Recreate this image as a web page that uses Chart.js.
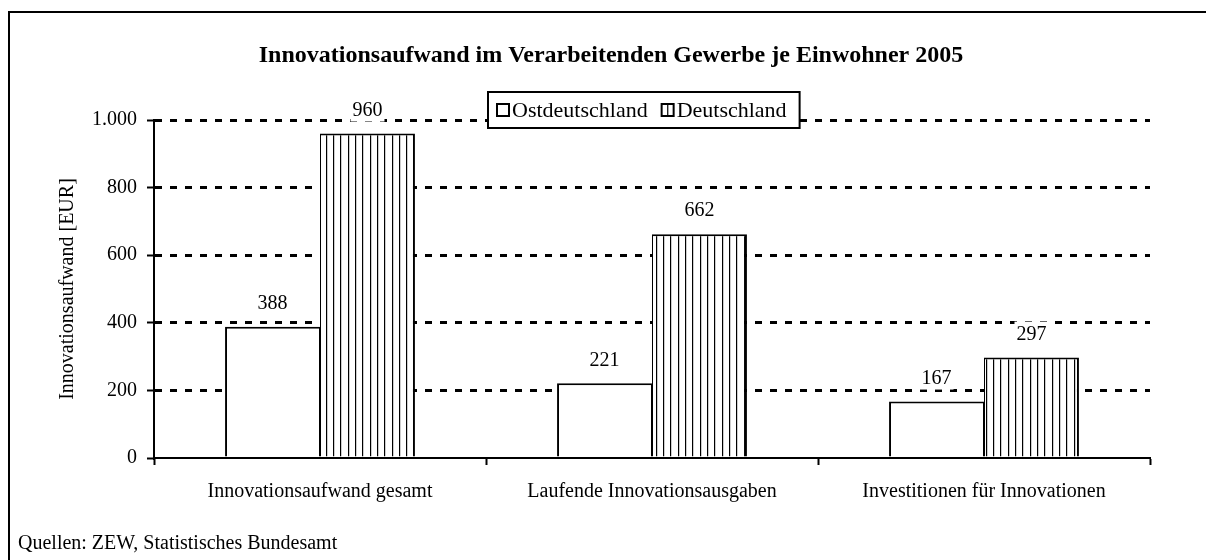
<!DOCTYPE html>
<html>
<head>
<meta charset="utf-8">
<script src="https://cdn.jsdelivr.net/npm/chart.js@4.4.0/dist/chart.umd.min.js"></script>
<style>
  body { margin: 0; background: #fff; }
</style>
</head>
<body>
<canvas id="innovChart" width="1206" height="560"></canvas>
<script>
// chart data
const categories = ['Innovationsaufwand gesamt', 'Laufende Innovationsausgaben', 'Investitionen für Innovationen'];
const seriesNames = ['Ostdeutschland', 'Deutschland'];
const ostValues = [388, 221, 167];
const deValues = [960, 662, 297];
const yTickValues = [0, 200, 400, 600, 800, 1000];

const chartTitle = 'Innovationsaufwand im Verarbeitenden Gewerbe je Einwohner 2005';
const yAxisTitle = 'Innovationsaufwand [EUR]';
const sourceNote = 'Quellen: ZEW, Statistisches Bundesamt';

const FONT = '"Liberation Serif", "Times New Roman", serif';

// vertical stripes fill for the Deutschland bars
function stripePattern() {
    var c = document.createElement('canvas');
    c.width = 22;
    c.height = 4;
    var p = c.getContext('2d');
    p.fillStyle = '#fff';
    p.fillRect(0, 0, 22, 4);
    p.fillStyle = '#000';
    [3, 10, 18].forEach(x => p.fillRect(x, 0, 1.2, 4));
    return p.createPattern(c, 'repeat');
}

function formatDe(v) {
    return String(v).replace(/\B(?=(\d{3})+(?!\d))/g, '.');
}

var ctx = document.getElementById('innovChart').getContext('2d');
var stripes = stripePattern();

const decorPlugin = {
    id: 'decor',
    beforeDraw(chart) {
        const c = chart.ctx;
        c.save();
        c.fillStyle = '#fff';
        c.fillRect(0, 0, chart.width, chart.height);
        c.strokeStyle = '#000';
        c.lineWidth = 2;
        c.strokeRect(9, 12, chart.width + 20, chart.height + 20);
        c.restore();
    },
    afterDatasetsDraw(chart) {
        // value labels on white boxes above the bars
        const c = chart.ctx;
        c.save();
        c.font = '20px ' + FONT;
        c.textAlign = 'center';
        c.textBaseline = 'middle';
        chart.data.datasets.forEach((ds, i) => {
            chart.getDatasetMeta(i).data.forEach((bar, j) => {
                const txt = formatDe(ds.data[j]);
                const w = c.measureText(txt).width + 4;
                const y = bar.y - 24;
                c.fillStyle = '#fff';
                c.fillRect(bar.x - w / 2, y - 12, w, 24);
                c.fillStyle = '#000';
                c.fillText(txt, bar.x, y + 1);
            });
        });
        c.restore();
    },
    afterDraw(chart) {
        const c = chart.ctx;
        c.save();
        c.fillStyle = '#000';

        // title
        c.font = 'bold 24px ' + FONT;
        c.textAlign = 'center';
        c.textBaseline = 'middle';
        c.fillText(chartTitle, 611, 56);

        // legend box
        c.font = '22px ' + FONT;
        c.textAlign = 'left';
        const left = 488, top = 92, h = 36;
        let x = left + 9;
        const items = chart.data.datasets.map(ds => ({ label: ds.label, striped: ds.backgroundColor !== '#fff' }));
        const parts = [];
        items.forEach((it, i) => {
            parts.push({ x: x, it: it });
            x += 12 + 3 + c.measureText(it.label).width + (i < items.length - 1 ? 14 : 13);
        });
        c.fillStyle = '#fff';
        c.fillRect(left, top, x - left, h);
        c.strokeStyle = '#000';
        c.lineWidth = 2;
        c.strokeRect(left, top, x - left, h);
        parts.forEach(p => {
            const sy = top + 12;
            c.fillStyle = '#fff';
            c.fillRect(p.x, sy, 12, 12);
            if (p.it.striped) {
                c.fillStyle = '#000';
                c.fillRect(p.x + 5.5, sy, 1.2, 12);
            }
            c.lineWidth = 2;
            c.strokeRect(p.x, sy, 12, 12);
            c.fillStyle = '#000';
            c.fillText(p.it.label, p.x + 15, top + h / 2 + 1);
        });

        // source note
        c.font = '20px ' + FONT;
        c.fillStyle = '#000';
        c.fillText(sourceNote, 18, 544);
        c.restore();
    }
};

new Chart(ctx, {
    type: 'bar',
    data: {
        labels: categories,
        datasets: [{
            label: seriesNames[0],
            data: ostValues,
            backgroundColor: '#fff',
            borderColor: '#000',
            borderWidth: { left: 2, top: 2, right: 1, bottom: 0 }
        }, {
            label: seriesNames[1],
            data: deValues,
            backgroundColor: stripes,
            borderColor: '#000',
            borderWidth: { left: 1, top: 2, right: 2, bottom: 0 }
        }]
    },
    options: {
        responsive: false,
        animation: false,
        layout: {
            padding: { left: 48, right: 56, top: 120, bottom: 50 }
        },
        datasets: {
            bar: {
                categoryPercentage: 0.572,
                barPercentage: 1
            }
        },
        scales: {
            x: {
                afterFit: s => { s.height = 52; },
                grid: {
                    drawOnChartArea: false,
                    drawTicks: true,
                    tickLength: 7,
                    tickWidth: 2,
                    tickColor: '#000'
                },
                border: { color: '#000', width: 2 },
                ticks: {
                    color: '#000',
                    padding: 15,
                    font: { family: FONT, size: 20 }
                }
            },
            y: {
                min: 0,
                max: 1000,
                afterFit: s => { s.width = 106; },
                afterBuildTicks: s => { s.ticks = yTickValues.map(v => ({ value: v })); },
                grid: {
                    color: c => (c.tick && c.tick.value === 0) ? 'rgba(0,0,0,0)' : '#000',
                    lineWidth: 3,
                    tickLength: 7,
                    tickWidth: 2,
                    tickColor: '#000'
                },
                border: { color: '#000', width: 2, dash: [7, 8] },
                ticks: {
                    color: '#000',
                    padding: 10,
                    font: { family: FONT, size: 20 },
                    callback: v => formatDe(v)
                },
                title: {
                    display: true,
                    text: yAxisTitle,
                    color: '#000',
                    padding: { top: 8, bottom: 0 },
                    font: { family: FONT, size: 20 }
                }
            }
        },
        plugins: {
            legend: { display: false },
            title: { display: false },
            tooltip: { enabled: false }
        }
    },
    plugins: [decorPlugin]
});
</script>
</body>
</html>
